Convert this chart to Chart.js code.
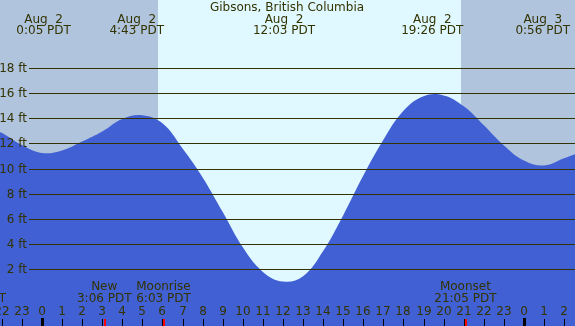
<!DOCTYPE html>
<html>
<head>
<meta charset="utf-8">
<script src="https://cdn.jsdelivr.net/npm/chart.js@4"></script>
<style>
  body { margin: 0; background: #fff; }
  #wrap { width: 575px; height: 326px; position: relative; }
</style>
</head>
<body>
<div id="wrap"><canvas id="tideChart"></canvas></div>
<script>
// hours from midnight Aug 2 (PDT), tide height in feet
const tideHours = [-2.09, -2, -1, 0, 1, 2, 3, 4, 5, 6, 7, 8, 9, 10, 11, 12, 13, 14,
                   15, 16, 17, 18, 19, 20, 21, 22, 23, 24, 25, 26, 26.54];
const tideFeet  = [12.9, 12.85, 11.88, 11.25, 11.45, 12.15, 12.95, 13.95, 14.25, 13.6, 11.6, 9.3, 6.55, 3.75, 1.8, 1.03, 1.45, 3.45,
                   6.3, 9.45, 12.3, 14.6, 15.76, 15.82, 14.95, 13.45, 11.85, 10.65, 10.26, 10.83, 11.15];

// high / low events shown on top
const eventHours = [0.083, 4.717, 12.05, 19.433, 24.933];
const eventDays  = ['Aug  2', 'Aug  2', 'Aug  2', 'Aug  2', 'Aug  3'];
const eventTimes = ['0:05 PDT', '4:43 PDT', '12:03 PDT', '19:26 PDT', '0:56 PDT'];

// moon events at bottom
const moonHours = [3.1, 6.05, 21.083];
const moonNames = ['New', 'Moonrise', 'Moonset'];
const moonTimes = ['3:06 PDT', '6:03 PDT', '21:05 PDT'];

const sunrise = 5.76, sunset = 20.87;
const gridFeet = [2, 4, 6, 8, 10, 12, 14, 16, 18];
const hourTicks = [-2, -1, 0, 1, 2, 3, 4, 5, 6, 7, 8, 9, 10, 11, 12, 13, 14, 15, 16, 17, 18, 19, 20, 21, 22, 23, 24, 25, 26];

const ink = '#333300';
const font = '12px "DejaVu Sans"';

const tidePlugin = {
    id: 'tideDecor',
    beforeDraw(chart) {
        const ctx = chart.ctx, x = chart.scales.x, a = chart.chartArea;
        ctx.save();
        ctx.fillStyle = '#b0c4de';
        ctx.fillRect(a.left, a.top, a.right - a.left, a.bottom - a.top);
        const x1 = Math.round(x.getPixelForValue(sunrise));
        const x2 = Math.round(x.getPixelForValue(sunset));
        ctx.fillStyle = '#e0f8ff';
        ctx.fillRect(x1, a.top, x2 - x1, a.bottom - a.top);
        ctx.restore();
    },
    afterDatasetsDraw(chart) {
        const ctx = chart.ctx, y = chart.scales.y, a = chart.chartArea;
        ctx.save();
        ctx.strokeStyle = ink;
        ctx.lineWidth = 1;
        ctx.fillStyle = ink;
        ctx.font = font;
        ctx.textAlign = 'right';
        ctx.textBaseline = 'middle';
        gridFeet.forEach(f => {
            const py = Math.round(y.getPixelForValue(f)) + 0.5;
            ctx.beginPath();
            ctx.moveTo(29, py);
            ctx.lineTo(a.right, py);
            ctx.stroke();
            ctx.fillText(f + ' ft', 27, py);
        });
        ctx.restore();
    },
    afterDraw(chart) {
        const ctx = chart.ctx, x = chart.scales.x, a = chart.chartArea;
        ctx.save();
        ctx.fillStyle = ink;
        ctx.font = font;
        ctx.textAlign = 'center';
        ctx.textBaseline = 'middle';
        ctx.fillText('Gibsons, British Columbia', 287, 8);
        eventHours.forEach((h, i) => {
            const px = x.getPixelForValue(h);
            ctx.fillText(eventDays[i], px, 20);
            ctx.fillText(eventTimes[i], px, 31);
        });
        moonHours.forEach((h, i) => {
            const px = x.getPixelForValue(h);
            ctx.fillText(moonNames[i], px, 287);
            ctx.fillText(moonTimes[i], px, 299);
        });
        // leftover of a label that starts off the canvas
        ctx.textAlign = 'right';
        ctx.fillText('PDT', 6, 299);
        ctx.textAlign = 'center';
        hourTicks.forEach(h => {
            const px = Math.round(x.getPixelForValue(h));
            ctx.fillText(String(((h % 24) + 24) % 24), px, 312);
            ctx.fillStyle = '#000';
            if (h % 24 === 0) ctx.fillRect(px - 1, 318, 3, a.bottom - 318);
            else ctx.fillRect(px, 319, 1, a.bottom - 319);
            ctx.fillStyle = ink;
        });
        ctx.fillStyle = '#ff0000';
        moonHours.forEach(h => {
            const px = Math.round(x.getPixelForValue(h));
            ctx.fillRect(px, 319, 2, a.bottom - 319);
        });
        ctx.restore();
    }
};

new Chart('tideChart', {
    type: 'line',
    data: {
        datasets: [{
            data: tideHours.map((h, i) => ({ x: h, y: tideFeet[i] })),
            borderWidth: 0,
            borderColor: 'rgba(0,0,0,0)',
            backgroundColor: '#4160d4',
            fill: 'start',
            pointRadius: 0,
            tension: 0.4
        }]
    },
    options: {
        responsive: true,
        maintainAspectRatio: false,
        animation: false,
        layout: { padding: 0 },
        plugins: { legend: { display: false }, tooltip: { enabled: false } },
        scales: {
            x: { type: 'linear', min: -2.09, max: 26.54, display: false },
            y: { type: 'linear', min: -2.5, max: 23.4, display: false }
        }
    },
    plugins: [tidePlugin]
});
</script>
</body>
</html>
